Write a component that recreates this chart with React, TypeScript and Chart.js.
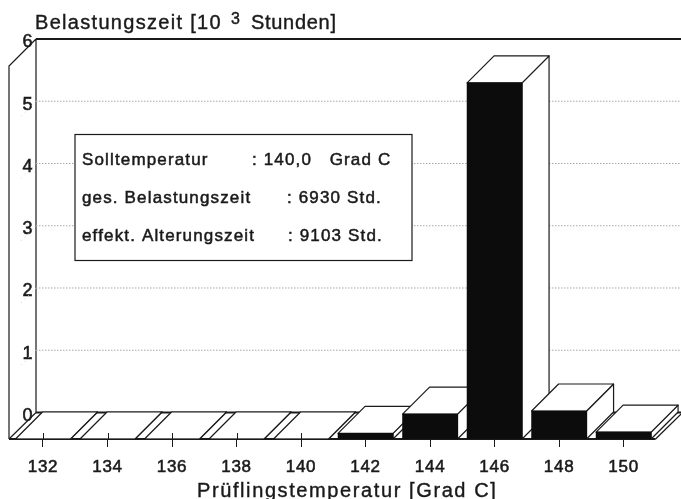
import React, { useEffect, useRef } from "react";
import { Chart, registerables } from "chart.js";

Chart.register(...registerables);

const temperatures = [132, 134, 136, 138, 140, 142, 144, 146, 148, 150];
const hours = [0, 0, 0, 0, 0, 0.09, 0.4, 5.72, 0.45, 0.11];
const yTicks = [0, 1, 2, 3, 4, 5, 6];
const yTitleParts = ["Belastungszeit [10", "3", "Stunden]"];
const xTitle = "Prüflingstemperatur [Grad C]";
const noteLabels = ["Solltemperatur", "ges. Belastungszeit", "effekt. Alterungszeit"];
const noteValues = [": 140,0   Grad C", ": 6930 Std.", ": 9103 Std."];

const FONT = '"Liberation Sans", Arial, sans-serif';
const INK = "#1a1a1a";
const DX = 27;
const DY = 27;

const depthPlugin = {
  id: "depth",
  beforeDraw(chart: any) {
    const { ctx } = chart;
    ctx.fillStyle = "#fff";
    ctx.fillRect(0, 0, chart.width, chart.height);
    ctx.letterSpacing = "0.7px";
  },
  beforeDatasetsDraw(chart: any) {
    const { ctx, scales } = chart;
    const x = scales.x;
    const y = scales.y;
    const back = scales.yBack;
    const area = chart.chartArea;
    const wallX = area.left + DX - 1;
    ctx.save();

    // side wall and back wall
    ctx.strokeStyle = INK;
    ctx.lineWidth = 1.2;
    ctx.beginPath();
    ctx.moveTo(area.left - 1, y.getPixelForValue(0));
    ctx.lineTo(area.left - 1, back.getPixelForValue(6) + DY);
    ctx.lineTo(wallX, back.getPixelForValue(6));
    ctx.moveTo(wallX, back.getPixelForValue(6));
    ctx.lineTo(wallX, back.getPixelForValue(0));
    ctx.stroke();
    ctx.lineWidth = 2;
    ctx.beginPath();
    ctx.moveTo(wallX, back.getPixelForValue(6));
    ctx.lineTo(area.right, back.getPixelForValue(6));
    ctx.stroke();

    // dotted grid lines on the walls
    for (const t of yTicks.slice(1, -1)) {
      const py = back.getPixelForValue(t);
      ctx.save();
      ctx.strokeStyle = "#a8a8a8";
      ctx.lineWidth = 1;
      ctx.setLineDash([1.5, 1.5]);
      ctx.beginPath();
      ctx.moveTo(wallX, py);
      ctx.lineTo(area.right, py);
      ctx.stroke();
      ctx.strokeStyle = "#c8c8c8";
      ctx.setLineDash([1, 4]);
      ctx.beginPath();
      ctx.moveTo(wallX, py);
      ctx.lineTo(wallX - 16, py + 16);
      ctx.stroke();
      ctx.restore();
    }

    // floor edges
    const floorEnd = x.getPixelForValue(150) + 32;
    ctx.lineWidth = 1.8;
    ctx.beginPath();
    ctx.moveTo(wallX, back.getPixelForValue(0));
    ctx.lineTo(floorEnd + DX, back.getPixelForValue(0));
    ctx.moveTo(area.left - 1, y.getPixelForValue(0));
    ctx.lineTo(floorEnd, y.getPixelForValue(0));
    ctx.stroke();
    ctx.lineWidth = 1.2;
    ctx.beginPath();
    ctx.moveTo(area.left - 1, y.getPixelForValue(0));
    ctx.lineTo(wallX, back.getPixelForValue(0));
    ctx.moveTo(floorEnd, y.getPixelForValue(0));
    ctx.lineTo(floorEnd + DX, back.getPixelForValue(0));
    ctx.stroke();

    // boxes, back to front
    const meta = chart.getDatasetMeta(0);
    meta.data.forEach((bar: any, i: number) => {
      const half = bar.width / 2;
      const l = bar.x - half;
      const r = bar.x + half;
      const top = y.getPixelForValue(hours[i]);
      const base = y.getPixelForValue(0);
      ctx.fillStyle = "#fff";
      ctx.strokeStyle = INK;
      ctx.lineWidth = 1.2;
      ctx.lineJoin = "round";
      ctx.beginPath();
      ctx.moveTo(r, base);
      ctx.lineTo(r + DX, base - DY);
      ctx.lineTo(r + DX, top - DY);
      ctx.lineTo(r, top);
      ctx.closePath();
      ctx.fill();
      ctx.stroke();
      ctx.beginPath();
      ctx.moveTo(l, top);
      ctx.lineTo(l + DX, top - DY);
      ctx.lineTo(r + DX, top - DY);
      ctx.lineTo(r, top);
      ctx.closePath();
      ctx.fill();
      ctx.stroke();
    });

    // upper part of the tick marks, across the floor
    ctx.lineWidth = 1;
    ctx.beginPath();
    for (const t of temperatures) {
      const px = Math.round(x.getPixelForValue(t)) + 0.5;
      ctx.moveTo(px, y.getPixelForValue(0) - 6);
      ctx.lineTo(px, y.getPixelForValue(0));
    }
    ctx.stroke();
    ctx.restore();
  },
  afterDraw(chart: any) {
    const { ctx } = chart;
    ctx.save();
    ctx.fillStyle = INK;
    ctx.strokeStyle = INK;
    ctx.textBaseline = "alphabetic";
    ctx.textAlign = "left";
    ctx.lineWidth = 0.4;

    const put = (text: string, px: number, py: number) => {
      ctx.fillText(text, px, py);
      ctx.strokeText(text, px, py);
    };

    // y title with raised exponent
    ctx.font = `20px ${FONT}`;
    ctx.letterSpacing = "1.3px";
    put(yTitleParts[0], 35, 29);
    ctx.font = `16px ${FONT}`;
    put(yTitleParts[1], 231, 24);
    ctx.font = `20px ${FONT}`;
    ctx.letterSpacing = "0.7px";
    put(yTitleParts[2], 251, 29);

    // x title
    ctx.letterSpacing = "1.6px";
    put(xTitle, 197, 497);

    // note box
    ctx.fillStyle = "#fff";
    ctx.lineWidth = 1.2;
    ctx.fillRect(75, 134, 337, 126);
    ctx.strokeRect(75, 134.5, 337, 126);
    ctx.fillStyle = INK;
    ctx.font = `17px ${FONT}`;
    ctx.letterSpacing = "1.15px";
    ctx.lineWidth = 0.5;
    const rows = [165, 203, 241];
    const valueX = [252, 287, 288];
    noteLabels.forEach((label, i) => {
      put(label, 82, rows[i]);
      put(noteValues[i], valueX[i], rows[i]);
    });
    ctx.restore();
  },
};

export default function App() {
  const ref = useRef<HTMLCanvasElement>(null);
  useEffect(() => {
    document.body.style.margin = "0";
    const chart = new Chart(ref.current as HTMLCanvasElement, {
      type: "bar",
      data: {
        datasets: [
          {
            data: temperatures.map((t, i) => ({ x: t, y: hours[i] })),
            backgroundColor: "#0c0c0c",
            borderWidth: 0,
            barThickness: 55,
            yAxisID: "y",
            xAxisID: "x",
          },
        ],
      },
      plugins: [depthPlugin],
      options: {
        animation: false,
        responsive: false,
        events: [],
        layout: { padding: { left: 10, right: 0, top: 38, bottom: 0 } },
        plugins: { legend: { display: false }, tooltip: { enabled: false }, title: { display: false } },
        scales: {
          x: {
            type: "linear",
            offset: false,
            min: 130.977,
            max: 151.78,
            afterBuildTicks: (s: any) => {
              s.ticks = temperatures.map((value) => ({ value }));
            },
            afterFit: (s: any) => {
              s.height = 60;
            },
            grid: { display: true, offset: false, drawOnChartArea: false, drawTicks: true, tickLength: 8, color: INK, tickColor: INK },
            border: { display: false },
            ticks: {
              autoSkip: false,
              maxRotation: 0,
              color: INK,
              padding: 10,
              textStrokeColor: INK,
              textStrokeWidth: 0.55,
              font: { family: FONT, size: 17 },
              callback: (v: any) => String(v),
            },
          },
          y: { display: false, min: 0, max: 6.442, position: "left" },
          yBack: {
            type: "linear",
            position: "left",
            min: -0.4257,
            max: 6.016,
            afterBuildTicks: (s: any) => {
              s.ticks = yTicks.map((value) => ({ value }));
            },
            afterFit: (s: any) => {
              s.width = 0;
            },
            grid: { display: false, drawTicks: false },
            border: { display: false },
            ticks: {
              mirror: true,
              color: INK,
              padding: 12.5,
              labelOffset: 3.5,
              textStrokeColor: INK,
              textStrokeWidth: 0.55,
              font: { family: FONT, size: 18 },
              callback: (v: any) => String(v),
            },
          },
        },
      },
    } as any);
    return () => chart.destroy();
  }, []);
  return <canvas ref={ref} width={681} height={499} style={{ display: "block" }} />;
}
